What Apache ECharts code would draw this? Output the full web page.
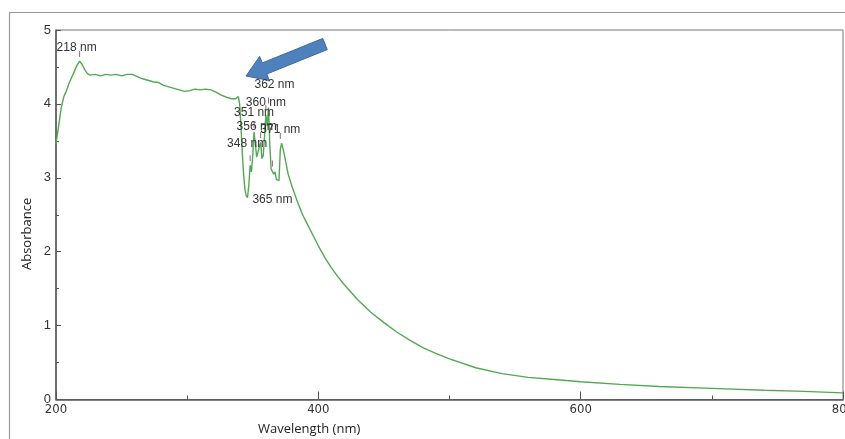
<!DOCTYPE html>
<html>
<head>
<meta charset="utf-8">
<script src="https://cdn.jsdelivr.net/npm/echarts@6/dist/echarts.min.js"></script>
<style>
  html, body { margin: 0; padding: 0; background: #fff; }
  #chart { width: 845px; height: 439px; }
</style>
</head>
<body>
<div id="chart"></div>
<script>
// wavelength (nm) / absorbance
const wavelength = [200, 202, 204, 206, 208, 210, 212, 214, 216, 218, 220, 222, 224, 226, 230, 234, 238, 242, 246, 250,
  254, 258, 262, 266, 270, 274, 278, 282, 286, 290, 294, 298, 302, 306, 310, 314, 318, 322, 326, 330, 334, 337, 339,
  340, 341, 342, 343, 344, 345, 346, 347, 348, 349, 350, 351, 352, 353, 354, 355, 356, 357, 358, 359, 360, 361, 362,
  363, 364, 365, 366, 367, 368, 369, 370, 371, 372, 374, 377, 380, 384, 388, 392, 396, 400, 405, 410, 415, 420, 430,
  440, 450, 460, 470, 480, 490, 500, 520, 540, 560, 580, 600, 630, 660, 700, 740, 770, 800];
const absorbance = [3.46, 3.70, 3.95, 4.10, 4.18, 4.28, 4.36, 4.44, 4.52, 4.58, 4.53, 4.46, 4.41, 4.39, 4.40, 4.38, 4.40, 4.39, 4.40, 4.38,
  4.40, 4.40, 4.37, 4.34, 4.32, 4.30, 4.29, 4.25, 4.23, 4.21, 4.19, 4.17, 4.18, 4.20, 4.19, 4.20, 4.19, 4.16, 4.12, 4.09, 4.07, 4.07, 4.10,
  4.00, 3.70, 3.35, 3.05, 2.85, 2.76, 2.73, 2.90, 3.17, 3.08, 3.30, 3.62, 3.45, 3.28, 3.35, 3.42, 3.48, 3.26, 3.30, 3.57, 3.85, 3.70, 3.95,
  3.45, 3.12, 3.10, 3.05, 3.08, 2.98, 3.00, 2.96, 3.38, 3.47, 3.32, 3.05, 2.88, 2.68, 2.50, 2.36, 2.22, 2.08, 1.92, 1.78, 1.66, 1.55, 1.35,
  1.18, 1.04, 0.91, 0.80, 0.70, 0.62, 0.55, 0.43, 0.35, 0.30, 0.27, 0.24, 0.205, 0.175, 0.15, 0.125, 0.11, 0.09];

// labelled peaks
const peakNm = [218, 348, 351, 356, 360, 362, 365, 371];
const peakAbs = [4.58, 3.17, 3.62, 3.48, 3.85, 3.95, 3.10, 3.47];

// label offsets (px) relative to each tick mark
const labelShift = {
  218: [-3, -6], 348: [-3, -15], 351: [0, -12], 356: [-4, -9],
  360: [0, -5], 362: [6, -16], 365: [0, 36], 371: [0, -6]
};

const chart = echarts.init(document.getElementById('chart'));

const markData = peakNm.map((nm, i) => ({
  coord: [nm, peakAbs[i]],
  label: { offset: labelShift[nm] }
}));

// blue arrow pointing at the 362 nm peak label
function arrowPoints(x1, y1, x2, y2, shaft, head, headLen) {
  const dx = x2 - x1, dy = y2 - y1;
  const len = Math.sqrt(dx * dx + dy * dy);
  const ux = dx / len, uy = dy / len, nx = -uy, ny = ux;
  const bx = x2 - ux * headLen, by = y2 - uy * headLen;
  return [
    [x1 + nx * shaft, y1 + ny * shaft],
    [bx + nx * shaft, by + ny * shaft],
    [bx + nx * head, by + ny * head],
    [x2, y2],
    [bx - nx * head, by - ny * head],
    [bx - nx * shaft, by - ny * shaft],
    [x1 - nx * shaft, y1 - ny * shaft]
  ];
}

const option = {
  animation: false,
  backgroundColor: '#fff',
  grid: {
    left: 56, top: 30, right: 2, bottom: 39.5,
    outerBoundsMode: 'none',
    containLabel: false,
    show: true, borderColor: '#777', borderWidth: 1
  },
  xAxis: {
    type: 'value',
    min: 200, max: 800, interval: 200,
    axisLine: { show: true, onZero: false, lineStyle: { color: '#555', width: 1.5 } },
    axisTick: { show: true, inside: true, length: 8, lineStyle: { color: '#555' } },
    minorTick: { show: true, splitNumber: 2, length: 4, lineStyle: { color: '#555' } },
    splitLine: { show: false },
    axisLabel: {
      margin: 4, color: '#333', fontSize: 13,
      fontFamily: 'Liberation Sans Narrow, DejaVu Sans Condensed, sans-serif'
    }
  },
  yAxis: {
    type: 'value',
    min: 0, max: 5, interval: 1,
    axisLine: { show: true, lineStyle: { color: '#555', width: 1.5 } },
    axisTick: { show: true, inside: true, length: 5, lineStyle: { color: '#555' } },
    minorTick: { show: true, splitNumber: 2, length: 3, lineStyle: { color: '#555' } },
    splitLine: { show: false },
    axisLabel: { margin: 5, color: '#333', fontSize: 13, fontFamily: 'Liberation Sans, Arial, sans-serif' }
  },
  series: [{
    type: 'line',
    data: wavelength.map((w, i) => [w, absorbance[i]]),
    showSymbol: false,
    smooth: false,
    lineStyle: { color: '#54a854', width: 1.4 },
    markPoint: {
      symbol: 'rect',
      symbolSize: [1, 6],
      symbolOffset: [0, -7],
      itemStyle: { color: '#8a6a8a' },
      label: {
        show: true,
        position: 'inside',
        formatter: p => p.data.coord[0] + ' nm',
        color: '#333',
        fontSize: 12,
        fontFamily: 'Liberation Sans, Arial, sans-serif'
      },
      data: markData
    }
  }],
  graphic: [
    {
      type: 'rect',
      shape: { x: 9.5, y: 12.5, width: 900, height: 500 },
      style: { fill: 'none', stroke: '#999', lineWidth: 1.2 },
      silent: true
    },
    {
      type: 'polygon',
      shape: { points: arrowPoints(325, 44, 246, 76, 6, 13, 20) },
      style: { fill: '#4f81bd', stroke: '#3a68a0', lineWidth: 1 },
      silent: true
    },
    {
      type: 'text',
      left: 258, top: 423,
      style: { text: 'Wavelength (nm)', fill: '#222', font: '13px "Open Sans", sans-serif' }
    },
    {
      type: 'text',
      x: 21, y: 270,
      rotation: Math.PI / 2,
      style: { text: 'Absorbance', fill: '#222', font: '13px "Open Sans", sans-serif' }
    }
  ]
};

chart.setOption(option);
</script>
</body>
</html>
